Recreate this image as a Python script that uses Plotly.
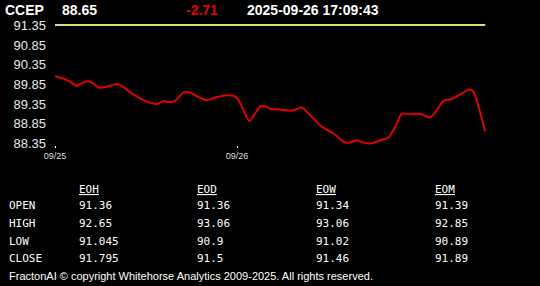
import plotly.graph_objects as go

# ---- data ----
symbol = "CCEP"
last_price = "88.65"
change = "-2.71"
timestamp = "2025-09-26 17:09:43"
prev_close = 91.36

# hours since 09/25 00:00 on the (compressed) session axis
hours = [0, 1.09, 1.98, 2.86, 3.52, 4.26, 4.97, 5.71, 6.82, 8.14, 8.80, 10.12, 11.64,
         12.75, 13.41, 14.28, 15.16, 15.82, 16.92, 17.80, 18.90, 20.00, 20.88, 21.76,
         23.51, 24.04, 24.83, 25.62, 26.37, 27.12, 27.92, 28.35, 29.67, 31.21, 32.53,
         33.19, 35.17, 36.70, 38.24, 38.90, 39.79, 40.66, 41.77, 42.86, 43.96, 44.84,
         45.72, 46.82, 48.13, 49.45, 50.33, 51.20, 52.31, 53.63, 54.63, 55.16, 55.82, 56.70]
prices = [90.06, 90.00, 89.92, 89.81, 89.88, 89.93, 89.88, 89.77, 89.79, 89.86, 89.81,
          89.62, 89.45, 89.37, 89.35, 89.42, 89.40, 89.43, 89.64, 89.64, 89.53, 89.45,
          89.50, 89.55, 89.56, 89.49, 89.20, 88.92, 89.11, 89.30, 89.28, 89.23, 89.21,
          89.18, 89.26, 89.15, 88.77, 88.60, 88.37, 88.37, 88.43, 88.37, 88.35, 88.43,
          88.50, 88.77, 89.10, 89.09, 89.10, 89.01, 89.20, 89.43, 89.48, 89.62, 89.72,
          89.66, 89.28, 88.65]

x_tick_vals = [0, 24]
x_tick_text = ["09/25", "09/26"]
y_tick_vals = [88.35, 88.85, 89.35, 89.85, 90.35, 90.85, 91.35]

table_cols = ["EOH", "EOD", "EOW", "EOM"]
table_rows = ["OPEN", "HIGH", "LOW", "CLOSE"]
table_vals = [
    ["91.36", "91.36", "91.34", "91.39"],
    ["92.65", "93.06", "93.06", "92.85"],
    ["91.045", "90.9", "91.02", "90.89"],
    ["91.795", "91.5", "91.46", "91.89"],
]
footer = "FractonAI © copyright Whitehorse Analytics 2009-2025. All rights reserved."

W, H = 540, 286

fig = go.Figure()
fig.add_trace(go.Scatter(x=[hours[0], hours[-1]], y=[prev_close, prev_close], mode="lines",
                         line=dict(color="#d6df7a", width=2), hoverinfo="skip"))
fig.add_trace(go.Scatter(x=hours, y=prices, mode="lines",
                         line=dict(color="#e00000", width=2, shape="spline", smoothing=0.8)))

# plot area placement (pixels)
left, right, top, bottom = 55, 486, 20.3, 145.3
fig.update_layout(
    width=W, height=H,
    margin=dict(l=0, r=0, t=0, b=0),
    paper_bgcolor="black", plot_bgcolor="black",
    showlegend=False,
    xaxis=dict(domain=[left / W, right / W], range=[0, 56.8], showgrid=False, zeroline=False,
               showline=False, tickvals=x_tick_vals, ticktext=x_tick_text,
               ticks="outside", ticklen=2, tickwidth=1, tickcolor="white",
               tickfont=dict(family="Liberation Sans, Arial", size=9, color="#dddddd"),
               automargin=False),
    yaxis=dict(domain=[1 - bottom / H, 1 - top / H], range=[88.30, 91.48], showgrid=False,
               zeroline=False, showline=False, tickvals=y_tick_vals,
               ticktext=[f"{v:.2f}" for v in y_tick_vals],
               tickfont=dict(family="Liberation Sans, Arial", size=13, color="#e8e8e8"),
               ticklabelstandoff=8, automargin=False),
)

ann = []
def txt(x, y, s, size, color="white", family="Liberation Sans, Arial", anchor="left"):
    ann.append(dict(x=x / W, y=1 - y / H, xref="paper", yref="paper", text=s, showarrow=False,
                    xanchor=anchor, yanchor="middle", font=dict(family=family, size=size, color=color)))

txt(3, 10, f"<b>{symbol}</b>", 14)
txt(60, 10, f"<b>{last_price}</b>", 14)
txt(184, 10, f"<b>{change}</b>", 14, color="#e00000")
txt(245, 10, f"<b>{timestamp}</b>", 14)

mono = "DejaVu Sans Mono, monospace"
col_x = [77, 195, 314, 433]
row_y = [205.8, 223.4, 241, 258.5]
for cx, c in zip(col_x, table_cols):
    txt(cx, 189, f"<u>{c}</u>", 11, family=mono)
for ry, r, vals in zip(row_y, table_rows, table_vals):
    txt(7, ry, r, 11, family=mono)
    for cx, v in zip(col_x, vals):
        txt(cx, ry, v, 11, family=mono)

txt(7, 275.5, footer, 11)

fig.update_layout(annotations=ann)
fig.write_html("out.html")
